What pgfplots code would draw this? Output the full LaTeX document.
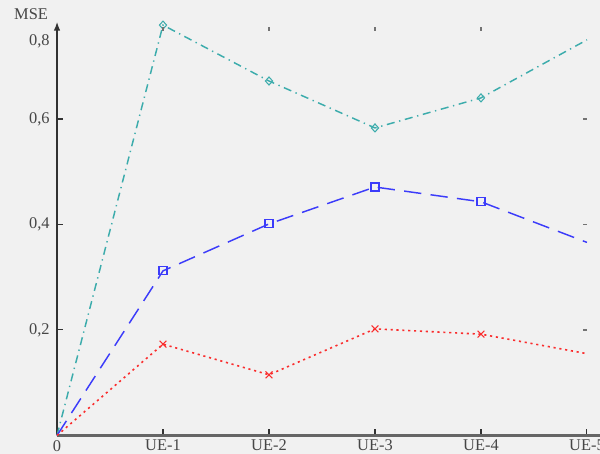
\documentclass[border=0pt]{standalone}
\usepackage{fontspec}
\setmainfont{Liberation Serif}
\usepackage{pgfplots}
\pgfplotsset{compat=1.18}
\usetikzlibrary{backgrounds,arrows.meta}
\definecolor{bg}{RGB}{241,241,241}
\definecolor{cyanc}{RGB}{60,172,172}
\definecolor{bluec}{RGB}{60,60,250}
\definecolor{redc}{RGB}{250,45,45}
\definecolor{txt}{RGB}{70,70,70}
\definecolor{axc}{RGB}{50,50,50}
\newcommand{\lf}{\fontsize{12.3}{13}\selectfont}
\begin{document}
\begin{tikzpicture}[background rectangle/.style={fill=bg,draw=none}, show background rectangle, inner frame sep=0pt]
\begin{axis}[
  name=main,
  x=79.5pt, y=395.6pt,
  xmin=0, xmax=5, ymin=0, ymax=0.774,
  clip=false,
  axis line style={draw=none},
  xtick={0,1,2,3,4,5}, xticklabels={0,UE-1,UE-2,UE-3,UE-4,UE-5},
  ytick={0.2,0.4,0.6}, yticklabels={{0,2},{0,4},{0,6}},
  xtick pos=left, ytick pos=left,
  tick align=inside,
  tick style={color=axc, line width=0.8pt},
  major tick length=4.5pt,
  ticklabel style={font=\lf, text=txt},
  xticklabel style={yshift=0pt},
  yticklabel style={xshift=-2pt},
]
\coordinate (bl) at (axis cs:-0.538,-0.035);
\coordinate (tr) at (axis cs:5.123,0.8256);
\draw[line width=1.8pt, axc!75] (axis cs:0,0) -- (axis cs:5.3,0);
\draw[line width=1.8pt, axc, -{Latex[length=7pt,width=5pt]}] (axis cs:0,0) -- (axis cs:0,0.785);
\node[anchor=east, font=\lf, text=txt, inner sep=0.333em, xshift=-2pt] at (axis cs:0,0.748) {0,8};
\node[font=\lf, text=txt] at (axis cs:-0.245,0.799) {MSE};

\addplot[color=cyanc, line width=1.1pt, dash pattern=on 6pt off 3.5pt on 1pt off 3.5pt,
  mark=diamond, mark size=3pt, mark indices={2,3,4,5}, mark options={solid, draw=cyanc, line width=0.8pt, xscale=1.2}]
  coordinates {(0,0) (1,0.778) (2,0.672) (3,0.583) (4,0.640) (5,0.750)};
\addplot[color=bluec, line width=1.1pt, dash pattern=on 13pt off 7pt,
  mark=square, mark size=3pt, mark indices={2,3,4,5}, mark options={solid, draw=bluec, line width=0.8pt}]
  coordinates {(0,0) (1,0.312) (2,0.401) (3,0.471) (4,0.443) (5,0.366)};
\addplot[color=redc, line width=1.2pt, dash pattern=on 1.6pt off 2.8pt,
  mark=x, mark size=3.6pt, mark indices={2,3,4,5}, mark options={solid, draw=redc, line width=0.8pt}]
  coordinates {(0,0) (1,0.173) (2,0.115) (3,0.202) (4,0.192) (5,0.155)};
\end{axis}
\begin{axis}[
  x=79.5pt, y=395.6pt,
  xmin=0, xmax=5, ymin=0, ymax=0.774,
  axis line style={draw=none},
  xtick={1,2,3,4}, ytick={0.2,0.4,0.6},
  xticklabels={}, yticklabels={},
  xtick pos=right, ytick pos=right,
  tick align=inside,
  tick style={color=black!55, line width=0.9pt},
  major tick length=3pt,
]
\end{axis}
\pgfresetboundingbox
\useasboundingbox (bl) rectangle (tr);
\end{tikzpicture}
\end{document}
